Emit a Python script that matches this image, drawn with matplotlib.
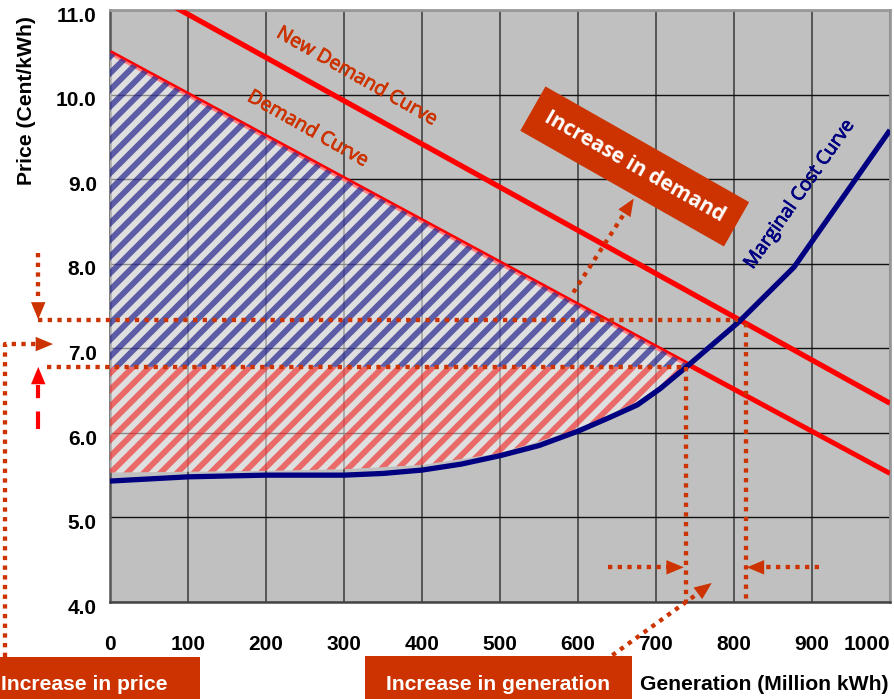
import numpy as np
import matplotlib
matplotlib.use("Agg")
import matplotlib.pyplot as plt
from matplotlib import font_manager
from matplotlib import patheffects
from matplotlib.transforms import ScaledTranslation

# ---------------------------------------------------------------- data
gen_ticks = [0, 100, 200, 300, 400, 500, 600, 700, 800, 900, 1000]
price_ticks = [4.0, 5.0, 6.0, 7.0, 8.0, 9.0, 10.0, 11.0]

# straight demand curves (generation, price)
demand_q = [0, 1000]
demand_p = [10.50, 5.52]
new_demand_q = [0, 1000]
new_demand_p = [11.46, 6.35]

# marginal cost (supply) curve
mc_q = [0, 100, 200, 300, 350, 400, 450, 500, 550, 600, 640, 676, 705, 739, 806, 877, 1000]
mc_p = [5.43, 5.48, 5.50, 5.50, 5.52, 5.56, 5.63, 5.73, 5.85, 6.02, 6.18, 6.33, 6.52, 6.78, 7.31, 7.96, 9.58]

# lower edge of the producer-surplus shading
floor_q = [0, 100, 200, 300, 400, 500, 600, 676, 739]
floor_p = [5.53, 5.54, 5.55, 5.57, 5.62, 5.76, 6.04, 6.37, 6.78]

# old and new market equilibrium
eq_q, eq_p = 739, 6.78
new_eq_q, new_eq_p = 816, 7.34

# ---------------------------------------------------------------- fonts
def first_font(names):
    for n in names:
        try:
            font_manager.findfont(n, fallback_to_default=False)
            return n
        except Exception:
            pass
    return "DejaVu Sans"

NARROW = [first_font(["Liberation Sans Narrow", "Liberation Sans", "DejaVu Sans"]), "DejaVu Sans"]
LABEL = [first_font(["Open Sans", "DejaVu Sans"]), "DejaVu Sans"]

ORANGE = "#cc3300"
RED = "#ff0000"
NAVY = "#000080"

plt.rcParams["hatch.linewidth"] = 4.2

fig = plt.figure(figsize=(8.94, 6.99), dpi=100)
ax = fig.add_axes([110 / 894, 1 - 602 / 699, 780 / 894, 592 / 699])
ax.set_facecolor("#c0c0c0")
ax.set_xlim(0, 1000)
ax.set_ylim(4, 11)

# grid
ax.set_xticks(gen_ticks)
ax.set_yticks(price_ticks)
ax.xaxis.grid(True, color="#555555", lw=1.4)
ax.yaxis.grid(True, color="#111111", lw=1.0)
ax.set_axisbelow(True)
for side, col, lw in [("left", "#555555", 1.8), ("bottom", "#444444", 1.8),
                      ("top", "#999999", 2.0), ("right", "#999999", 2.0)]:
    ax.spines[side].set_color(col)
    ax.spines[side].set_linewidth(lw)

ax.tick_params(axis="x", length=0, pad=23.5)
ax.tick_params(axis="y", length=0, pad=9.5)
ax.set_xticklabels([str(v) for v in gen_ticks], fontfamily=NARROW,
                   fontweight="bold", fontsize=15)
ax.set_yticklabels(["%.1f" % v for v in price_ticks], fontfamily=NARROW,
                   fontweight="bold", fontsize=15)
xl = ax.get_xticklabels()
xl[-1].set_horizontalalignment("right")
shift = ScaledTranslation(0, -3 / 72, fig.dpi_scale_trans)
for lab in ax.get_yticklabels():
    lab.set_transform(lab.get_transform() + shift)

# demand lines
ax.plot(new_demand_q, new_demand_p, color=RED, lw=3.8, zorder=3,
        solid_capstyle="butt")
ax.plot(demand_q, demand_p, color=RED, lw=3.6, zorder=3,
        solid_capstyle="butt")

# surplus areas
q = np.linspace(0, eq_q, 300)
d = np.interp(q, demand_q, demand_p)
fl = np.interp(q, floor_q, floor_p)
ax.fill_between(q, eq_p, d, facecolor=(1, 1, 1, 0.5),
                edgecolor=(0, 0, 0.5, 0.58), hatch="//", lw=0, zorder=4)
ax.fill_between(q, fl, eq_p, facecolor=(1, 1, 1, 0.5),
                edgecolor=(0.95, 0.1, 0.1, 0.6), hatch="//", lw=0, zorder=4)

# marginal cost curve
ax.plot(mc_q, mc_p, color=NAVY, lw=3.8, zorder=5, solid_capstyle="butt")

# ---------------------------------------------------------------- guides
DOT = (0, (1, 1.25))


def dotted(xs, ys, color=ORANGE, ls=DOT, lw=3.1):
    ax.plot(xs, ys, color=color, lw=lw, ls=ls, dash_capstyle="butt",
            clip_on=False, zorder=6)


def head(base, tip, color=ORANGE):
    ax.annotate("", xy=tip, xytext=base, annotation_clip=False,
                arrowprops=dict(arrowstyle="-|>,head_length=12.5,head_width=5.2",
                                mutation_scale=1, lw=0, color=color,
                                shrinkA=0, shrinkB=0), zorder=7)


# equilibrium guide lines
dotted([-92, new_eq_q - 11], [new_eq_p, new_eq_p])
dotted([new_eq_q, new_eq_q], [7.30, 4.0])
dotted([-81, eq_q], [eq_p, eq_p])
dotted([eq_q, eq_q], [eq_p, 4.0])

# price change arrows on the left
dotted([-92, -92], [8.13, 7.56])
head((-92, 7.60), (-92, new_eq_p))
ax.plot([-92, -92], [6.04, 6.56], color=RED, lw=3.0, ls=(0, (4.2, 3.2)),
        dash_capstyle="butt", clip_on=False, zorder=6)
head((-92, 6.56), (-92, eq_p), color=RED)
dotted([-135, -135, -90], [3.35, 7.05, 7.05])
head((-92, 7.05), (-73, 7.05))

# generation change arrows
dotted([639, 717], [4.41, 4.41])
head((715, 4.41), (735.6, 4.41))
dotted([909, 836], [4.41, 4.41])
head((838, 4.41), (816.4, 4.41))
dotted([644, 752], [3.37, 4.09])
head((749, 4.07), (771.5, 4.225))
dotted([594, 659], [7.66, 8.59])
head((657, 8.56), (671.4, 8.77))

# ---------------------------------------------------------------- text
def heavier(color):
    return [patheffects.withStroke(linewidth=0.6, foreground=color)]


ax.text(317, 10.21, "New Demand Curve", color=ORANGE, fontsize=14,
        fontfamily=LABEL, rotation=-29.5, rotation_mode="anchor",
        ha="center", va="center", zorder=8, path_effects=heavier(ORANGE))
ax.text(254, 9.59, "Demand Curve", color=ORANGE, fontsize=14,
        fontfamily=LABEL, rotation=-29.5, rotation_mode="anchor",
        ha="center", va="center", zorder=8, path_effects=heavier(ORANGE))
ax.text(884, 8.82, "Marginal Cost Curve", color=NAVY, fontsize=13.6,
        fontfamily=LABEL, rotation=55, rotation_mode="anchor",
        ha="center", va="center", zorder=8, path_effects=heavier(NAVY))
ax.text(672.7, 9.15, "Increase in demand", color="white", fontsize=15,
        fontfamily=LABEL, fontweight="bold", rotation=-29.6,
        rotation_mode="anchor", ha="center", va="center", zorder=8,
        bbox=dict(boxstyle="square,pad=0.72", fc=ORANGE, ec="none"))

# boxes along the bottom edge
fig.patches.append(plt.Rectangle((0, 0), 200 / 894, 42 / 699, transform=fig.transFigure,
                                 fc=ORANGE, ec="none", zorder=1))
fig.patches.append(plt.Rectangle((365 / 894, 0), 267 / 894, 43 / 699,
                                 transform=fig.transFigure, fc=ORANGE, ec="none",
                                 zorder=1))
fig.text(1 / 894, 1 - 684 / 699, "Increase in price", color="white",
         fontfamily=NARROW, fontweight="bold", fontsize=15.2, ha="left", va="center")
fig.text(498 / 894, 1 - 684 / 699, "Increase in generation", color="white",
         fontfamily=NARROW, fontweight="bold", fontsize=15.2, ha="center", va="center")

# axis titles
fig.text(888 / 894, 1 - 684 / 699, "Generation (Million kWh)", color="black",
         fontfamily=NARROW, fontweight="bold", fontsize=15.2, ha="right", va="center")
fig.text(27 / 894, 1 - 101 / 699, "Price (Cent/kWh)", color="black",
         fontfamily=NARROW, fontweight="bold", fontsize=15.2, rotation=90,
         ha="center", va="center")

fig.savefig("out.png", dpi=100)
